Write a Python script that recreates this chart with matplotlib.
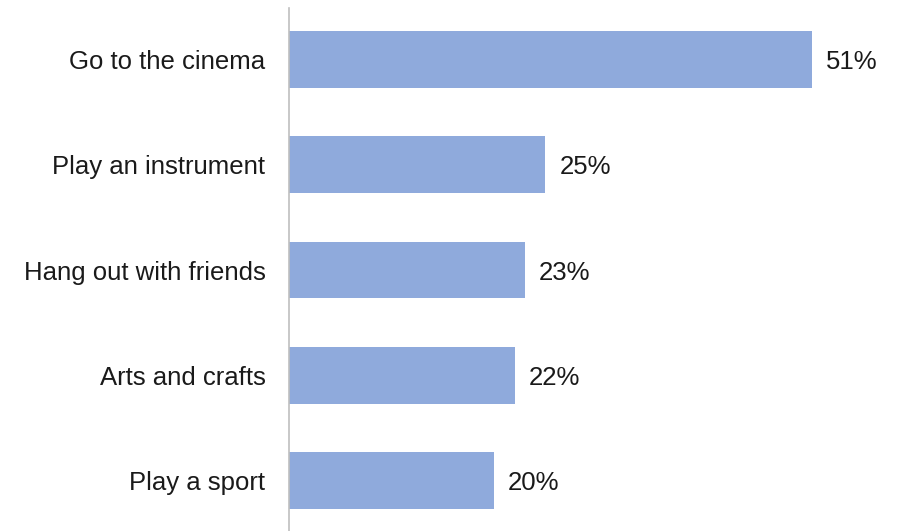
import matplotlib.pyplot as plt

plt.rcParams['font.family'] = ['Liberation Sans', 'DejaVu Sans']

activities = ['Go to the cinema', 'Play an instrument', 'Hang out with friends',
              'Arts and crafts', 'Play a sport']
percent = [51, 25, 23, 22, 20]

fig = plt.figure(figsize=(9.05, 5.31), dpi=100)
ax = fig.add_axes([289 / 905, 0, 1 - 289 / 905, 1 - 8 / 531])

pos = list(range(len(activities)))
ax.barh(pos, percent, height=0.54, color='#8FAADC')
for p, v in zip(pos, percent):
    ax.annotate(f'{v}%', (v, p), xytext=(10, 0), textcoords='offset points',
                va='center_baseline', ha='left', fontsize=18.5, color='#1A1A1A')

ax.set_ylim(4.475, -0.485)
ax.set_xlim(0, 60.07)
ax.set_yticks(pos)
ax.set_yticklabels(activities, fontsize=18.5, color='#1A1A1A', va='center_baseline')
ax.tick_params(axis='y', length=0, pad=17)
ax.set_xticks([])
for s in ['top', 'right', 'bottom']:
    ax.spines[s].set_visible(False)
ax.spines['left'].set_color('#BFBFBF')
ax.spines['left'].set_linewidth(1.2)

fig.savefig('out.png', dpi=100)
